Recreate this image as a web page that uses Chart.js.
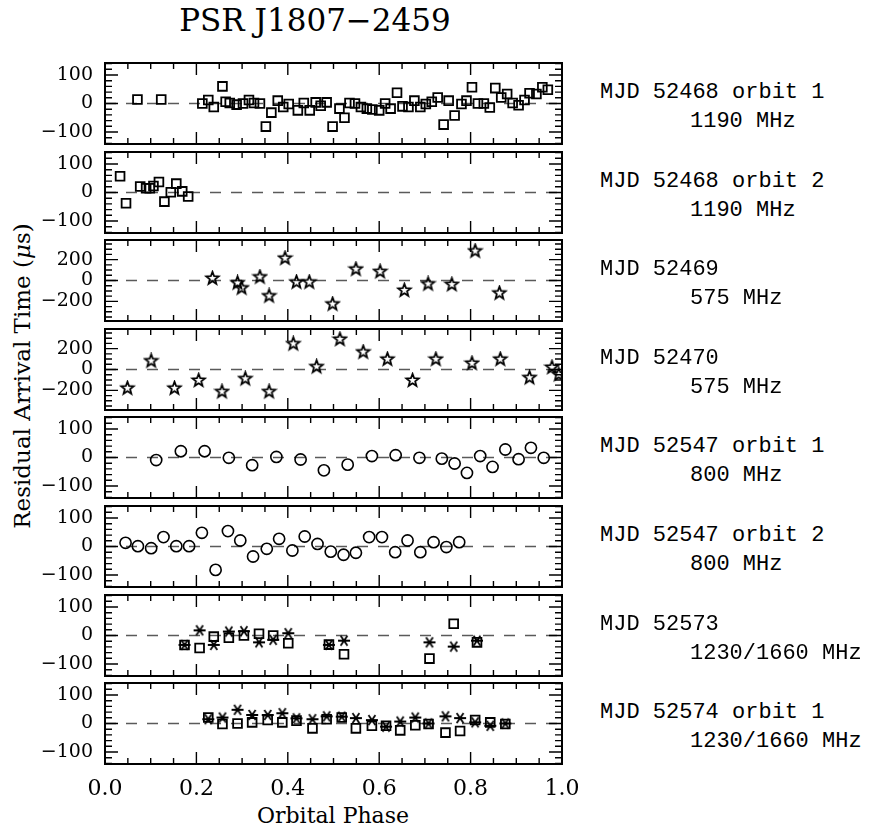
<!DOCTYPE html>
<html><head><meta charset="utf-8">
<script src="https://cdn.jsdelivr.net/npm/chart.js@4.4.1/dist/chart.umd.min.js"></script>
<style>
html,body{margin:0;padding:0;background:#fff;}
body{width:882px;height:831px;position:relative;overflow:hidden;}
canvas{position:absolute;left:0;}
.lbl{position:absolute;font-family:"Liberation Mono","DejaVu Sans Mono",monospace;font-size:22px;line-height:24px;color:#000;white-space:pre;}
#title{position:absolute;left:115px;width:400px;text-align:center;top:0px;font-family:"DejaVu Serif",serif;font-size:31px;line-height:40px;color:#000;}
#ylab{position:absolute;left:-178px;top:362px;width:400px;text-align:center;font-family:"DejaVu Serif",serif;font-size:23px;line-height:28px;transform:rotate(-90deg);color:#000;}
#xlab{position:absolute;left:183px;width:300px;top:802px;text-align:center;font-family:"DejaVu Serif",serif;font-size:22px;line-height:28px;color:#000;}
</style></head>
<body>
<div id="title">PSR J1807−2459</div>
<div id="ylab">Residual Arrival Time (<i>μ</i>s)</div>
<div id="xlab">Orbital Phase</div>
<script>
// ---------- DATA ----------
const p1Phase = [0.071,0.123,0.213,0.226,0.238,0.257,0.264,0.273,0.288,0.302,0.315,0.326,0.339,0.352,0.364,0.378,0.390,0.402,0.422,0.435,0.448,0.461,0.472,0.485,0.498,0.513,0.524,0.535,0.547,0.560,0.573,0.585,0.600,0.613,0.625,0.639,0.651,0.664,0.677,0.690,0.702,0.715,0.728,0.741,0.752,0.765,0.780,0.791,0.803,0.816,0.829,0.842,0.854,0.867,0.880,0.892,0.905,0.918,0.929,0.944,0.957,0.969];
const p1Res   = [14,14,0,12,-12,60,6,2,-4,0,12,2,0,-81,-32,10,-12,-2,-24,2,-24,4,-8,4,-81,-18,-50,2,0,-12,-18,-21,-24,0,-18,38,-10,-12,10,-12,-2,6,21,-74,10,-42,-2,10,57,0,0,-14,54,21,33,2,-6,12,36,33,57,48];

const p2Phase = [0.033,0.046,0.077,0.090,0.098,0.106,0.118,0.130,0.144,0.156,0.169,0.182];
const p2Res   = [57,-38,21,15,15,23,37,-32,1,31,4,-14];

const p3Phase = [0.235,0.290,0.299,0.339,0.359,0.394,0.419,0.447,0.498,0.549,0.602,0.655,0.707,0.759,0.810,0.863];
const p3Res   = [20,-23,-72,33,-148,213,-16,-16,-226,108,85,-95,-33,-39,282,-121];

const p4Phase = [0.049,0.101,0.152,0.205,0.256,0.307,0.359,0.412,0.463,0.514,0.565,0.618,0.673,0.724,0.803,0.865,0.929,0.978,0.993];
const p4Res   = [-180,82,-180,-105,-213,-89,-213,246,26,289,167,98,-105,98,59,98,-79,20,-49];

const p5Phase = [0.112,0.166,0.218,0.271,0.322,0.375,0.428,0.479,0.531,0.584,0.636,0.688,0.737,0.765,0.792,0.821,0.848,0.876,0.905,0.932,0.960];
const p5Res   = [-9,22,22,-1,-27,2,-7,-45,-25,5,8,-1,-4,-21,-54,5,-33,28,-6,34,-1];

const p6Phase = [0.045,0.072,0.101,0.128,0.156,0.184,0.212,0.242,0.269,0.296,0.324,0.354,0.381,0.410,0.437,0.465,0.494,0.522,0.549,0.578,0.606,0.635,0.662,0.690,0.719,0.747,0.775];
const p6Res   = [13,1,-6,33,1,1,48,-82,54,21,-35,-8,27,-14,35,9,-18,-29,-22,33,33,-20,21,-20,15,-2,15];

const p7Phase   = [0.174,0.207,0.238,0.271,0.304,0.337,0.368,0.401,0.490,0.523,0.710,0.763,0.814];
const p7ResLow  = [-33,-44,-4,-8,0,6,0,-27,-32,-66,-81,41,-24];   // squares
const p7ResHigh = [-33,18,-33,14,15,-24,-15,8,-33,-18,-24,-39,-18]; // asterisks

const p8Phase   = [0.226,0.257,0.290,0.322,0.356,0.388,0.419,0.454,0.485,0.518,0.549,0.584,0.615,0.646,0.679,0.708,0.745,0.777,0.810,0.843,0.876];
const p8ResLow  = [21,-2,0,4,12,4,10,-17,15,21,-17,-8,-8,-24,-6,-2,-32,-26,12,4,-2];
const p8ResHigh = [15,21,48,30,30,36,18,15,25,24,19,12,-11,7,21,0,25,19,4,-8,0];

const line1 = ['MJD 52468 orbit 1','MJD 52468 orbit 2','MJD 52469','MJD 52470','MJD 52547 orbit 1','MJD 52547 orbit 2','MJD 52573','MJD 52574 orbit 1'];
const line2 = ['1190 MHz','1190 MHz','575 MHz','575 MHz','800 MHz','800 MHz','1230/1660 MHz','1230/1660 MHz'];
const xTickValues = [0,0.2,0.4,0.6,0.8,1.0];
const yTicksSmall = [-100,0,100];
const yTicksLarge = [-200,0,200];

// ---------- MARKERS ----------
function makeStar(R, r, lw){
  const s = Math.ceil(2*(R+lw)); const c = document.createElement('canvas'); c.width=s; c.height=s;
  const g = c.getContext('2d'); g.strokeStyle='#000'; g.lineWidth=lw; g.lineJoin='miter';
  g.beginPath();
  for(let k=0;k<10;k++){ const ang = -Math.PI/2 + k*Math.PI/5; const rr = (k%2===0)?R:r;
    const px = s/2 + rr*Math.cos(ang), py = s/2 + rr*Math.sin(ang);
    if(k===0) g.moveTo(px,py); else g.lineTo(px,py); }
  g.closePath(); g.stroke(); return c;
}
function makeAsterisk(R, lw){
  const s = Math.ceil(2*(R+lw)); const c = document.createElement('canvas'); c.width=s; c.height=s;
  const g = c.getContext('2d'); g.strokeStyle='#000'; g.lineWidth=lw; g.lineCap='butt';
  g.beginPath();
  [0, 55, -55].forEach(d=>{ const a=d*Math.PI/180; const dx=R*Math.cos(a), dy=R*Math.sin(a);
    g.moveTo(s/2-dx, s/2-dy); g.lineTo(s/2+dx, s/2+dy); });
  g.stroke(); return c;
}
const starImg = makeStar(6.6, 2.8, 1.8);
const asterImg = makeAsterisk(6, 1.8);

function markerProps(m){
  if(m==='square') return {pointStyle:'rect', pointRadius:6.2, borderWidth:1.8, borderColor:'#000', backgroundColor:'rgba(0,0,0,0)'};
  if(m==='circle') return {pointStyle:'circle', pointRadius:5.6, borderWidth:1.6, borderColor:'#000', backgroundColor:'rgba(0,0,0,0)'};
  if(m==='star') return {pointStyle:starImg, pointRadius:6, borderColor:'#000'};
  return {pointStyle:asterImg, pointRadius:6, borderColor:'#000'};
}

const panels = [
  {sets:[[p1Phase,p1Res,'square']], big:false},
  {sets:[[p2Phase,p2Res,'square']], big:false},
  {sets:[[p3Phase,p3Res,'star']], big:true},
  {sets:[[p4Phase,p4Res,'star']], big:true},
  {sets:[[p5Phase,p5Res,'circle']], big:false},
  {sets:[[p6Phase,p6Res,'circle']], big:false},
  {sets:[[p7Phase,p7ResLow,'square'],[p7Phase,p7ResHigh,'asterisk']], big:false},
  {sets:[[p8Phase,p8ResLow,'square'],[p8Phase,p8ResHigh,'asterisk']], big:false}
];

// ---------- FRAME + INWARD TICKS PLUGIN ----------
const framePlugin = {
  id:'frame',
  afterDatasetsDraw(chart, args, opts){
    const {ctx, chartArea:a} = chart; const x = chart.scales.x, y = chart.scales.y;
    ctx.save(); ctx.strokeStyle='#000'; ctx.lineWidth=1.4; ctx.beginPath();
    for(let k=0;k<=20;k++){ const px = x.getPixelForValue(k*0.05); const L = (k%4===0)?12:6;
      ctx.moveTo(px,a.bottom); ctx.lineTo(px,a.bottom-L); ctx.moveTo(px,a.top); ctx.lineTo(px,a.top+L); }
    const mn = opts.minor, mj = opts.major;
    for(let v=Math.ceil(y.min/mn)*mn; v<=y.max+1e-9; v+=mn){ const py = y.getPixelForValue(v);
      const L = (Math.abs(v % mj) < 1e-6)?13:7;
      ctx.moveTo(a.left,py); ctx.lineTo(a.left+L,py); ctx.moveTo(a.right,py); ctx.lineTo(a.right-L,py); }
    ctx.stroke();
    ctx.lineWidth=2; ctx.strokeRect(a.left,a.top,a.right-a.left,a.bottom-a.top);
    ctx.restore();
  }
};

const W = 600, PAD_R = 38, FRAME_H = 81, PITCH = 88.6, TOP0 = 63;
const fmt = v => (v<0 ? '\u2212'+Math.abs(v) : String(v));

panels.forEach((p, i) => {
  const last = (i === panels.length-1);
  const frameTop = Math.round(TOP0 + i*PITCH);
  const padTop = 10;
  const xAxisH = last ? 60 : 0;
  const H = padTop + FRAME_H + (last ? xAxisH : 10);
  const cv = document.createElement('canvas');
  cv.width = W; cv.height = H; cv.style.top = (frameTop - padTop) + 'px'; cv.style.width=W+'px'; cv.style.height=H+'px';
  document.body.appendChild(cv);

  const range = p.big ? 388 : 142;
  const yt = p.big ? yTicksLarge : yTicksSmall;
  const datasets = p.sets.map(s => Object.assign({
    data: s[0].map((xv,k)=>({x:xv, y:s[1][k]})), showLine:false
  }, markerProps(s[2])));
  datasets.push({data:[{x:0,y:0},{x:1,y:0}], showLine:true, borderColor:'#5a5a5a', borderWidth:1.3, borderDash:[11,10], pointRadius:0});

  new Chart(cv, {
    type:'scatter',
    data:{datasets},
    options:{
      responsive:false, animation:false, devicePixelRatio:1,
      layout:{padding:{left:0, right:PAD_R, top:padTop, bottom: last?0:10}},
      plugins:{legend:{display:false}, tooltip:{enabled:false}, frame:{minor: p.big?50:20, major: p.big?200:100}},
      scales:{
        x:{type:'linear', min:0, max:1, display:last,
           grid:{display:false, drawTicks:false}, border:{display:false},
           afterBuildTicks: sc => { sc.ticks = xTickValues.map(v=>({value:v})); },
           afterFit: sc => { sc.height = xAxisH; sc.paddingLeft = 0; sc.paddingRight = 0; },
           ticks:{autoSkip:false, maxRotation:0, padding:12, color:'#000', font:{family:'"DejaVu Serif", serif', size:22},
                  callback: v => Number(v).toFixed(1)}},
        y:{type:'linear', min:-range, max:range,
           grid:{display:false, drawTicks:false}, border:{display:false},
           afterBuildTicks: sc => { sc.ticks = yt.map(v=>({value:v})); },
           afterFit: sc => { sc.width = 105; sc.paddingTop = 0; sc.paddingBottom = 0; },
           ticks:{padding:12, color:'#000', font:{family:'"DejaVu Serif", serif', size:19}, callback: v => fmt(v)}}
      }
    },
    plugins:[framePlugin]
  });

  const c = frameTop + FRAME_H/2;
  const d1 = document.createElement('div'); d1.className='lbl'; d1.textContent=line1[i];
  d1.style.left='600px'; d1.style.top=(c-11-12)+'px'; document.body.appendChild(d1);
  const d2 = document.createElement('div'); d2.className='lbl'; d2.textContent=line2[i];
  d2.style.left='690px'; d2.style.top=(c+18-12)+'px'; document.body.appendChild(d2);
});
</script>
</body></html>
